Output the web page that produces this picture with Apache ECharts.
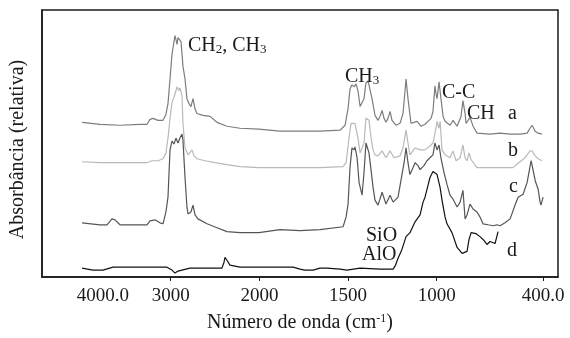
<!DOCTYPE html>
<html>
<head>
<meta charset="utf-8">
<script src="https://cdn.jsdelivr.net/npm/echarts@6/dist/echarts.min.js"></script>
<style>
  html, body { margin: 0; padding: 0; background: #fff; }
  #chart { width: 570px; height: 338px; }
</style>
</head>
<body>
<div id="chart"></div>
<script>
// wavenumber (cm-1) and relative absorbance
const wnA = [4000,3798,3572,3347,3268,3234,3200,3144,3087,3054,3031,3008,2986,2963,2952,2941,2929,2918,2896,2884,2862,2839,2817,2794,2772,2749,2727,2704,2636,2557,2478,2366,2219,2005,1884,1771,1658,1545,1517,1500,1489,1478,1466,1455,1444,1432,1421,1410,1399,1387,1376,1365,1348,1331,1320,1308,1297,1286,1275,1263,1252,1229,1207,1190,1173,1162,1145,1128,1111,1088,1066,1049,1032,1021,1010,1004,998,987,976,964,953,925,908,885,863,852,840,835,823,812,795,773,699,643,586,530,490,474,462,445,428,406];
const absA = [157,155,154,155,155,160,161,159,159,165,176,201,226,239,245,241,236,243,245,239,214,201,181,176,173,181,171,166,164,163,157,153,151,150,148,148,148,149,154,171,191,195,193,196,189,173,171,181,197,199,198,181,164,159,163,169,161,157,161,168,159,154,156,166,201,181,156,157,158,153,155,158,161,168,194,186,181,198,181,163,158,154,159,153,163,179,166,156,159,162,153,146,145,146,145,145,146,151,154,148,146,145];

const wnB = [4000,3798,3572,3268,3211,3144,3087,3054,3031,3008,2986,2963,2941,2929,2918,2907,2896,2873,2862,2839,2805,2783,2760,2738,2704,2614,2501,2366,2219,2005,1884,1658,1528,1511,1495,1483,1472,1461,1455,1444,1432,1421,1410,1399,1393,1382,1370,1359,1348,1331,1308,1286,1263,1241,1207,1190,1173,1162,1151,1122,1094,1066,1038,1021,1004,998,987,981,970,953,925,908,891,868,852,840,829,818,806,773,699,615,570,530,502,474,462,445,428,406];
const absB = [117,116,116,116,118,118,120,126,141,161,177,183,189,193,194,189,192,184,156,131,124,123,129,123,120,118,116,114,112,111,111,111,112,116,141,156,158,156,158,141,126,124,136,161,163,159,141,129,124,123,128,121,128,121,123,131,149,136,124,131,129,129,133,136,151,158,151,158,129,124,121,128,118,121,134,121,118,126,119,111,111,111,111,117,121,128,128,123,120,118];

const wnC = [4000,3798,3719,3663,3629,3572,3403,3268,3234,3178,3121,3087,3054,3031,3008,2986,2963,2941,2918,2896,2873,2862,2839,2817,2805,2772,2749,2726,2693,2591,2478,2366,2219,2005,1884,1771,1658,1528,1511,1500,1489,1478,1466,1461,1449,1438,1421,1410,1399,1393,1382,1370,1359,1348,1331,1308,1286,1263,1246,1218,1196,1184,1173,1162,1151,1134,1122,1105,1094,1072,1055,1038,1021,1010,1004,998,987,976,959,942,925,908,885,868,852,840,829,812,795,773,756,739,711,682,660,643,615,586,558,541,513,490,468,457,445,428,417,412,400];
const absC = [55,53,53,59,58,53,53,53,57,58,55,54,66,81,129,138,135,141,136,141,145,139,101,71,64,66,73,63,59,54,50,46,45,45,48,47,48,51,61,74,111,131,129,132,121,96,83,106,136,138,126,108,91,78,73,86,74,83,76,81,104,116,131,116,104,111,116,113,109,113,118,121,124,136,138,129,134,121,106,94,83,79,71,76,88,59,63,74,69,66,61,54,53,52,53,52,55,59,73,81,84,96,118,109,98,89,76,73,81];

const wnD = [4000,3877,3764,3651,3494,3234,3042,2986,2952,2918,2896,2783,2557,2422,2399,2388,2366,2332,2219,2005,1884,1810,1771,1743,1698,1658,1619,1545,1506,1432,1320,1246,1235,1218,1196,1173,1151,1122,1094,1077,1066,1049,1038,1021,1010,998,981,970,953,942,914,885,857,829,818,806,795,778,756,733,716,699,688,671,654];
const absD = [9,7,7,10,10,10,10,7,4,6,8,9,9,9,15,20,17,12,10,10,10,10,8,7,7,9,9,8,7,9,8,8,11,19,28,41,45,56,63,76,81,93,101,107,108,104,91,78,61,54,45,30,24,26,38,45,46,44,41,37,33,36,36,34,46];

// tick labels (the 4000.0 label sits right of its position in the original)
const tickLabels = { 118: '4000.0', 500: '3000', 1000: '2000', 1500: '1500', 2000: '1000', 2600: '400.0' };
const tickPos = [500, 1000, 1500, 2000, 2600];

// instrument-style axis: 4000-2000 at half scale, 2000-400 at full scale
function toU(wn) {
    return wn >= 2000 ? (4000 - wn) / 2 : 1000 + (2000 - wn);
}

function pairs(xs, ys) {
    return xs.map((x, i) => [toU(x), ys[i]]);
}

const font = 'Liberation Serif, Times New Roman, serif';
const ink = '#1a1a1a';

const chart = echarts.init(document.getElementById('chart'));

function line(name, xs, ys, color) {
    return {
        name: name,
        type: 'line',
        showSymbol: false,
        silent: true,
        lineStyle: { color: color, width: 1.2 },
        data: pairs(xs, ys)
    };
}

function txt(x, y, text, rich) {
    const style = {
        text: text,
        x: x,
        y: y,
        fill: ink,
        font: '20px ' + font,
        verticalAlign: 'middle'
    };
    if (rich) {
        style.rich = {
            n: { fontSize: 20, fontFamily: font, lineHeight: 20, verticalAlign: 'top', fill: ink },
            s: { fontSize: 13, fontFamily: font, lineHeight: 4, verticalAlign: 'bottom', fill: ink }
        };
    }
    return { type: 'text', style: style, z: 10 };
}

const option = {
    animation: false,
    grid: {
        left: 42,
        right: 12,
        top: 10,
        bottom: 57,
        show: true,
        borderColor: ink,
        borderWidth: 1.5
    },
    xAxis: {
        type: 'value',
        min: -226,
        max: 2684,
        axisLine: { show: true, onZero: false, lineStyle: { color: ink, width: 1.5 } },
        axisTick: {
            show: true,
            customValues: tickPos,
            length: 4,
            lineStyle: { color: ink, width: 1 }
        },
        axisLabel: {
            customValues: Object.keys(tickLabels).map(Number),
            formatter: v => tickLabels[v],
            margin: 10,
            fontFamily: font,
            fontSize: 19,
            color: ink
        },
        splitLine: { show: false },
        name: '{n|Número de onda (cm}{p|-1}{n|)}',
        nameLocation: 'middle',
        nameGap: 36,
        nameTextStyle: {
            rich: {
                n: { fontSize: 20, fontFamily: font, color: ink, lineHeight: 20, verticalAlign: 'top' },
                p: { fontSize: 12, fontFamily: font, color: ink, lineHeight: 8, verticalAlign: 'top' }
            }
        }
    },
    yAxis: {
        type: 'value',
        min: 0,
        max: 271,
        axisLine: { show: true, onZero: false, lineStyle: { color: ink, width: 1.5 } },
        axisTick: { show: false },
        axisLabel: { show: false },
        splitLine: { show: false },
        name: 'Absorbância (relativa)',
        nameLocation: 'middle',
        nameGap: 14,
        nameTextStyle: { fontFamily: font, fontSize: 20, color: ink, padding: [0, 12, 0, 0] }
    },
    series: [
        line('a', wnA, absA, '#7d7d7d'),
        line('b', wnB, absB, '#b9b9b9'),
        line('c', wnC, absC, '#555555'),
        line('d', wnD, absD, '#111111')
    ],
    graphic: [
        txt(188, 46, '{n|CH}{s|2}{n|, CH}{s|3}', true),
        txt(345, 77, '{n|CH}{s|3}', true),
        txt(442, 93, 'C-C'),
        txt(467, 114, 'CH'),
        txt(508, 114, 'a'),
        txt(508, 151, 'b'),
        txt(509, 187, 'c'),
        txt(507, 251, 'd'),
        txt(366, 236, 'SiO'),
        txt(362, 255, 'AlO')
    ]
};

chart.setOption(option);
</script>
</body>
</html>
